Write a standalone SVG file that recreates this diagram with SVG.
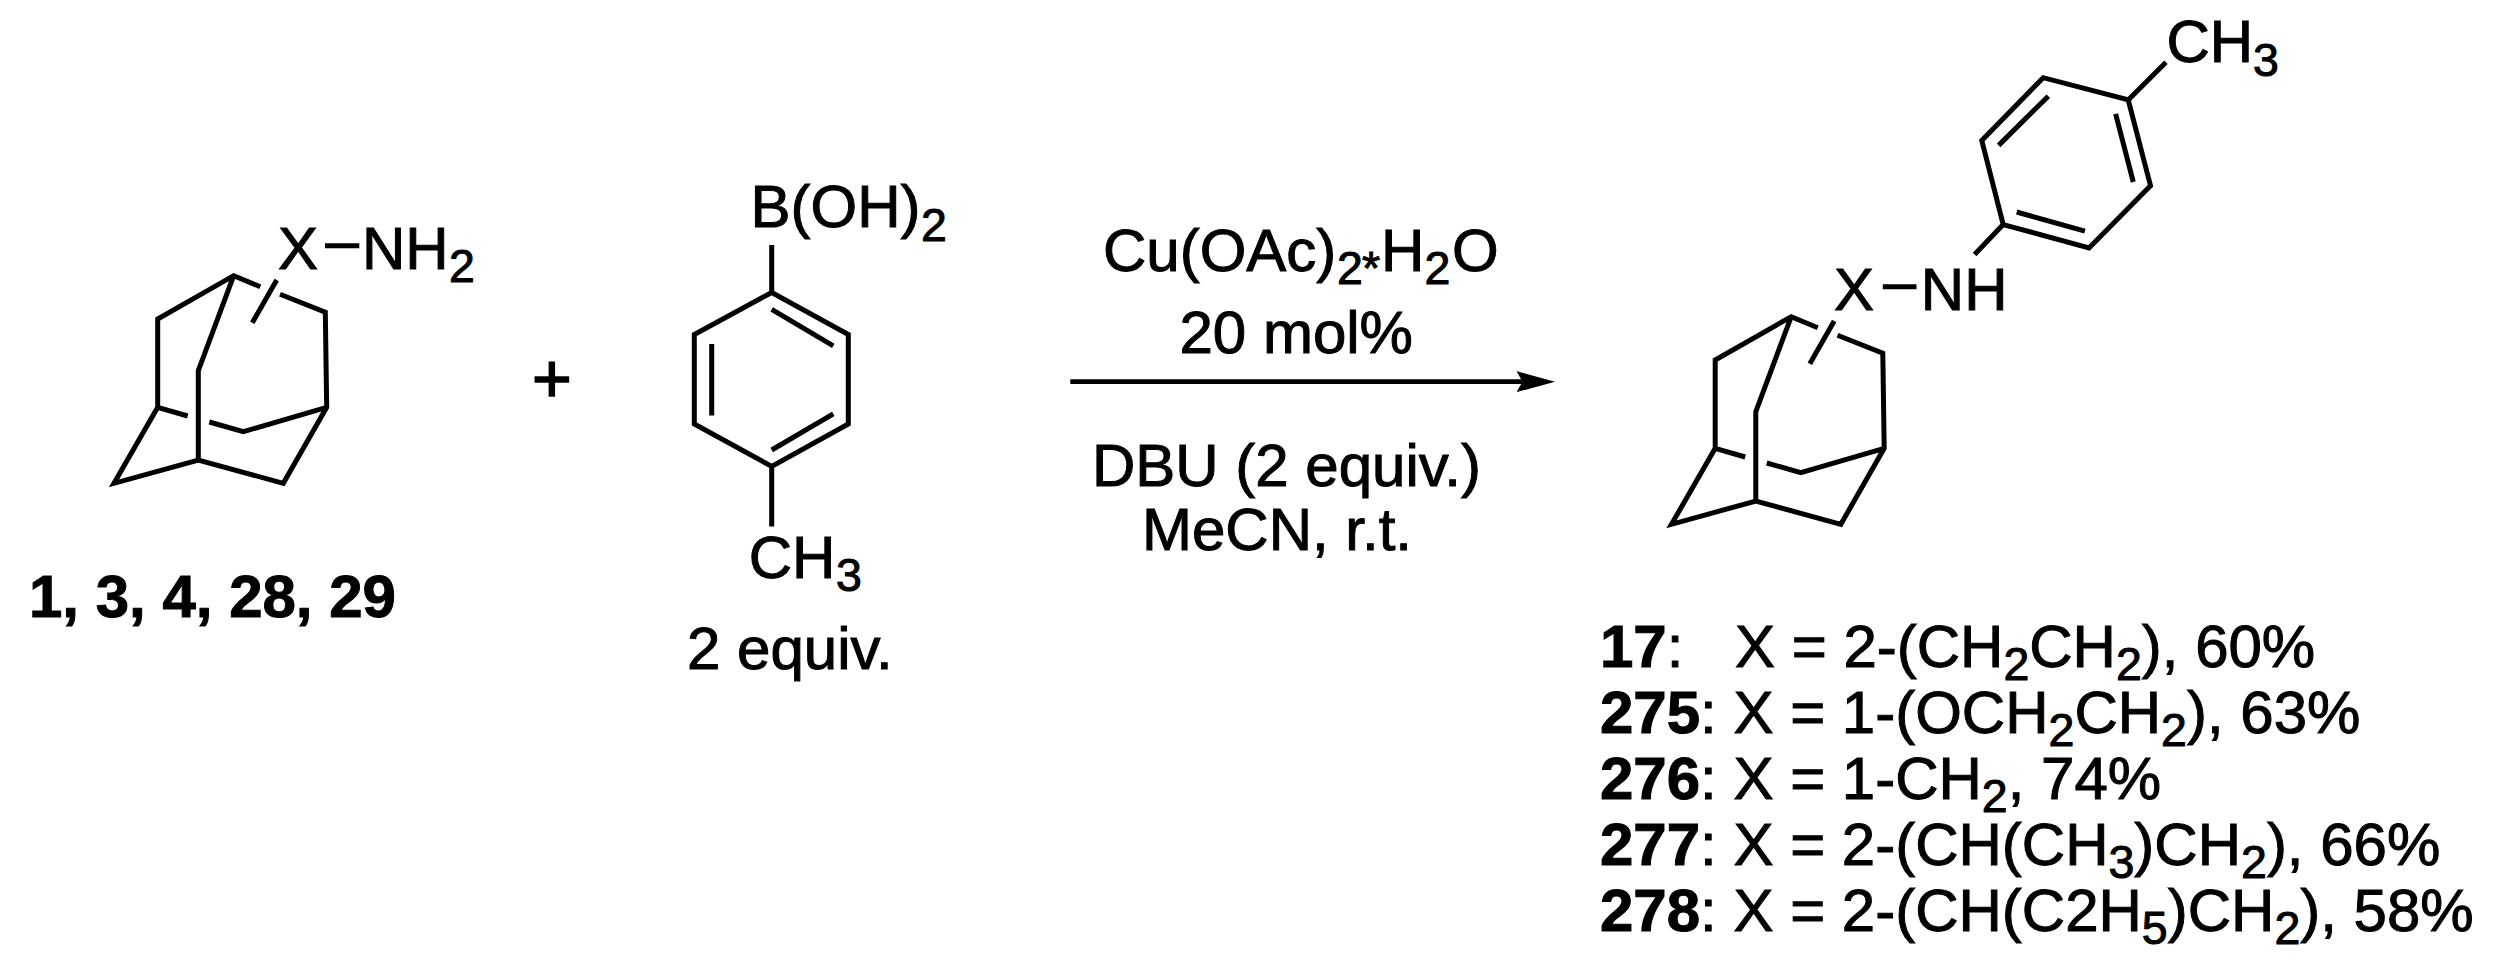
<svg xmlns="http://www.w3.org/2000/svg" width="2506" height="968" viewBox="0 0 2506 968">
<style>
text{font-family:"Liberation Sans",Arial,sans-serif;font-size:60px;fill:#000;stroke:#000;stroke-width:1}
.b{font-weight:bold}
.s{font-size:46.5px}
.p{font-size:68px;stroke-width:1.6}
.bond{fill:none;stroke:#000;stroke-width:5;stroke-linecap:butt;stroke-linejoin:miter}
.link{fill:none;stroke:#000;stroke-width:4.8}
</style>
<defs>
<path id="adamantane" class="bond" d="M260.3 286.7L233.7 275.7L157.7 319V407.3L114 483.3L198.3 460L283.3 483.3L326.7 407.3L325.3 312.3L280 294.3M233.7 275.7L198.3 370.7V460M187.7 416L157.7 407.3M209.3 422L243.3 431.7L326.7 407.3M276.7 280L252.3 322.7"/>
<marker id="head" markerUnits="userSpaceOnUse" markerWidth="40" markerHeight="24" refX="6" refY="10.5" orient="auto"><path d="M0 0L38.5 10.5L0 21L6 10.5Z" fill="#000"/></marker>
</defs>
<g id="amine">
<use href="#adamantane"/>
<path class="bond" d="M325 245.7H359.3"/>
<text x="278" y="269.3">X</text>
<text x="362" y="269.3">NH</text>
<text class="s" x="449" y="282">2</text>
<text class="b" x="29" y="617">1, 3, 4, 28, 29</text>
</g>
<g id="plus"><text class="p" x="532" y="401.8">+</text></g>
<g id="boronic-acid">
<path class="bond" d="M771.7 245V292.5L848.3 334.6V424L771.7 466.4L694.3 424V334.6L771.7 292.5M771.7 309.4L833.3 345.9M711.7 343.9V415.5M771.7 450L833.3 413.8M771.7 466.4V526.4"/>
<text x="750.6" y="226.8">B(OH)</text>
<text class="s" x="921" y="240.5">2</text>
<text x="748.7" y="578">CH</text>
<text class="s" x="836" y="591">3</text>
<text x="687" y="668.6">2 equiv.</text>
</g>
<g id="connectors">
<path class="link" d="M1070.3 381.7H1522.5" marker-end="url(#head)"/>
</g>
<g id="conditions">
<text x="1103" y="270.7">Cu(OAc)</text>
<text class="s" x="1337" y="284">2</text>
<text class="s" x="1362" y="284">*</text>
<text x="1381" y="270.7">H</text>
<text class="s" x="1424.5" y="284">2</text>
<text x="1452" y="270.7">O</text>
<text x="1179.5" y="353.3">20 mol%</text>
<text x="1092" y="486">DBU (2 equiv.)</text>
<text x="1142" y="550">MeCN, r.t.</text>
</g>
<g id="product">
<use href="#adamantane" transform="translate(1557.5 41)"/>
<path class="bond" d="M1882.8 286.7H1916.5M1974.6 254.5L2003.2 224.6L1981.8 140.6L2043.2 77.7L2128.2 99.9L2150.5 185.7L2089 247.9L2003.2 224.6M2115.6 113.9L2133.3 182M2084.9 231.2L2016.7 212M1998.6 145.4L2048.3 96.2M2128.2 99.9L2166 62.2"/>
<text x="1834" y="310">X</text>
<text x="1920.8" y="310">NH</text>
<text x="2166.5" y="61.8">CH</text>
<text class="s" x="2253" y="75.8">3</text>
</g>
<g id="legend">
<text y="667.3"><tspan class="b" x="1600">17</tspan>:<tspan x="1735">X = 2-(CH</tspan><tspan class="s" dy="13">2</tspan><tspan dy="-13">CH</tspan><tspan class="s" dy="13">2</tspan><tspan dy="-13">), 60%</tspan></text>
<text y="733.2"><tspan class="b" x="1600">275</tspan>: X = 1-(OCH<tspan class="s" dy="13">2</tspan><tspan dy="-13">CH</tspan><tspan class="s" dy="13">2</tspan><tspan dy="-13">), 63%</tspan></text>
<text y="799.1"><tspan class="b" x="1600">276</tspan>: X = 1-CH<tspan class="s" dy="13">2</tspan><tspan dy="-13">, 74%</tspan></text>
<text y="865"><tspan class="b" x="1600">277</tspan>: X = 2-(CH(CH<tspan class="s" dy="13">3</tspan><tspan dy="-13">)CH</tspan><tspan class="s" dy="13">2</tspan><tspan dy="-13">), 66%</tspan></text>
<text y="930.7"><tspan class="b" x="1600">278</tspan>: X = 2-(CH(C2H<tspan class="s" dy="13">5</tspan><tspan dy="-13">)CH</tspan><tspan class="s" dy="13">2</tspan><tspan dy="-13">), 58%</tspan></text>
</g>
</svg>
